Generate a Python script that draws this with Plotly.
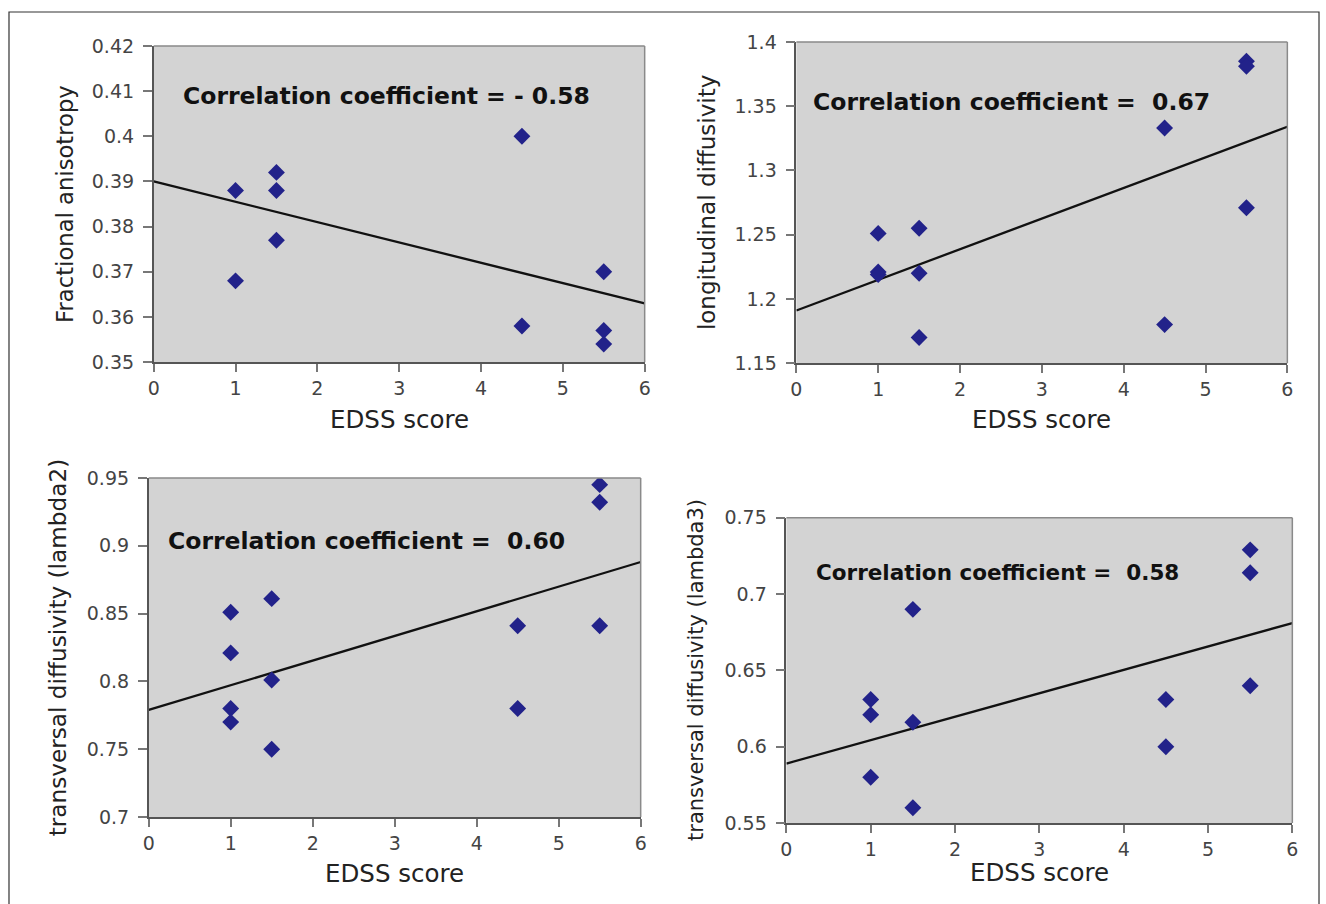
import plotly.graph_objects as go

W, H = 1326, 904

# ---- data ----
edss_fa = [1, 1, 1.5, 1.5, 1.5, 4.5, 4.5, 5.5, 5.5, 5.5]
fa = [0.388, 0.368, 0.392, 0.388, 0.377, 0.400, 0.358, 0.370, 0.357, 0.354]
fa_trend = [0.390, 0.363]

edss_ld = [1, 1, 1, 1.5, 1.5, 1.5, 4.5, 4.5, 5.5, 5.5, 5.5]
ld = [1.251, 1.221, 1.219, 1.255, 1.220, 1.170, 1.333, 1.180, 1.385, 1.381, 1.271]
ld_trend = [1.191, 1.334]

edss_l2 = [1, 1, 1, 1, 1.5, 1.5, 1.5, 4.5, 4.5, 5.5, 5.5, 5.5]
l2 = [0.851, 0.821, 0.780, 0.770, 0.861, 0.801, 0.750, 0.841, 0.780, 0.945, 0.932, 0.841]
l2_trend = [0.779, 0.888]

edss_l3 = [1, 1, 1, 1.5, 1.5, 1.5, 4.5, 4.5, 5.5, 5.5, 5.5]
l3 = [0.631, 0.621, 0.580, 0.690, 0.616, 0.560, 0.631, 0.600, 0.729, 0.714, 0.640]
l3_trend = [0.589, 0.681]

trend_x = [0, 6]
x_ticks = [0, 1, 2, 3, 4, 5, 6]


# map target pixel positions to paper fractions (compensates for page framing)
def fx(x):
    return (x - 5) / 0.993 / W


def fy(y):
    return 1 - (y - 9) / 0.978 / H


panels = [
    dict(x=edss_fa, y=fa, trend=fa_trend, yr=[0.35, 0.42], dt=0.01,
         ytitle="Fractional anisotropy", corr="Correlation coefficient = - 0.58",
         px=(153, 645, 44, 361), ytx=64, xty=418, cx=180, cy=94, cf=23.5, yf=22.7),
    dict(x=edss_ld, y=ld, trend=ld_trend, yr=[1.15, 1.4], dt=0.05,
         ytitle="longitudinal diffusivity", corr="Correlation coefficient =  0.67",
         px=(797, 1289, 40, 362), ytx=707, xty=418, cx=812, cy=100, cf=23.5, yf=23),
    dict(x=edss_l2, y=l2, trend=l2_trend, yr=[0.7, 0.95], dt=0.05,
         ytitle="transversal diffusivity (lambda2)", corr="Correlation coefficient =  0.60",
         px=(148, 641, 477, 817), ytx=57, xty=874, cx=165, cy=540, cf=23.5, yf=23.2),
    dict(x=edss_l3, y=l3, trend=l3_trend, yr=[0.55, 0.75], dt=0.05,
         ytitle="transversal diffusivity (lambda3)", corr="Correlation coefficient =  0.58",
         px=(787, 1294, 517, 823), ytx=697, xty=873, cx=815, cy=572, cf=21.5, yf=21),
]

fig = go.Figure()
layout = dict(
    width=W, height=H, margin=dict(l=0, r=0, t=0, b=0),
    paper_bgcolor="white", plot_bgcolor="#d3d3d3", showlegend=False,
    font=dict(family="DejaVu Sans", color="#222"),
)
annotations = []
shapes = [dict(type="rect", xref="paper", yref="paper",
               x0=fx(8), x1=min(fx(1322), 1325 / W), y0=-0.05, y1=min(fy(9), 1 - 1 / H),
               line=dict(color="#333", width=1.2), fillcolor="rgba(0,0,0,0)", layer="above")]

for i, p in enumerate(panels):
    n = "" if i == 0 else str(i + 1)
    xa, ya = "x" + n, "y" + n
    l, r, t, b = p["px"]
    yt = []
    v = p["yr"][0]
    while v <= p["yr"][1] + 1e-9:
        yt.append(round(v, 3))
        v += p["dt"]
    fig.add_trace(go.Scatter(x=trend_x, y=p["trend"], mode="lines",
                             line=dict(color="#111", width=2.3), xaxis=xa, yaxis=ya,
                             hoverinfo="skip"))
    fig.add_trace(go.Scatter(x=p["x"], y=p["y"], mode="markers",
                             marker=dict(symbol="diamond", size=13, color="#22228a"),
                             xaxis=xa, yaxis=ya))
    axcommon = dict(showgrid=False, zeroline=False, showline=True, linecolor="#555",
                    linewidth=1.6, mirror=False, ticks="outside",
                    tickcolor="#777", tickwidth=1.5,
                    tickfont=dict(family="DejaVu Sans", size=19, color="#444"))
    layout["xaxis" + n] = dict(domain=[fx(l), fx(r)], range=[0, 6], tickvals=x_ticks,
                               anchor=ya, fixedrange=True, ticklen=8, **axcommon)
    layout["yaxis" + n] = dict(domain=[fy(b), fy(t)], range=p["yr"], tickvals=yt,
                               anchor=xa, fixedrange=True, ticklen=9,
                               ticklabelstandoff=5, **axcommon)
    # lighter top / right frame of the plot area
    shapes.append(dict(type="line", xref=xa + " domain", yref=ya + " domain",
                       x0=0, x1=1, y0=1, y1=1, line=dict(color="#8a8a8a", width=1.5)))
    shapes.append(dict(type="line", xref=xa + " domain", yref=ya + " domain",
                       x0=1, x1=1, y0=0, y1=1, line=dict(color="#8a8a8a", width=1.5)))
    annotations.append(dict(xref="paper", yref="paper", x=fx(p["ytx"]), y=fy((t + b) / 2),
                            text=p["ytitle"], textangle=-90, showarrow=False,
                            font=dict(family="DejaVu Sans", size=p["yf"], color="#222"),
                            xanchor="center", yanchor="middle"))
    annotations.append(dict(xref="paper", yref="paper", x=fx((l + r) / 2), y=fy(p["xty"]),
                            text="EDSS score", showarrow=False,
                            font=dict(family="DejaVu Sans", size=24.5, color="#222"),
                            xanchor="center", yanchor="middle"))
    annotations.append(dict(xref="paper", yref="paper", x=fx(p["cx"]), y=fy(p["cy"]),
                            text="<b>" + p["corr"] + "</b>", showarrow=False,
                            font=dict(family="DejaVu Sans", size=p["cf"], color="#111"),
                            xanchor="left", yanchor="middle"))

layout["annotations"] = annotations
layout["shapes"] = shapes
fig.update_layout(**layout)
fig.write_html("out.html", config={"displayModeBar": False},
               post_script="document.body.style.margin='0';document.body.style.overflow='hidden';")
